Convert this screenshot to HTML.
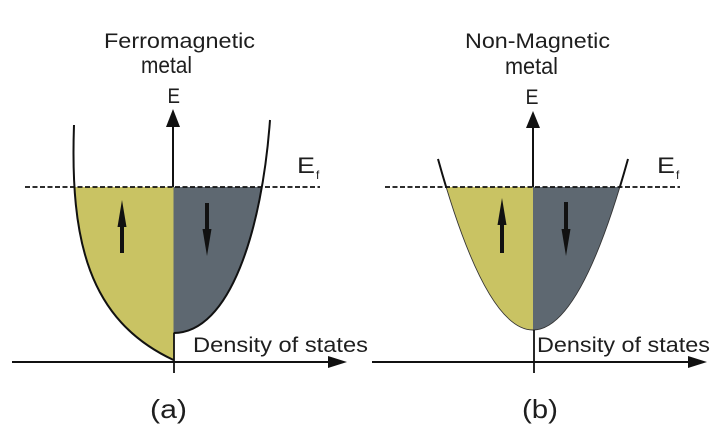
<!DOCTYPE html>
<html>
<head>
<meta charset="utf-8">
<style>
html,body{margin:0;padding:0;background:#fff;}
svg{display:block;}
text{font-family:"Liberation Sans",Arial,sans-serif;fill:#1e1e1e;}
</style>
</head>
<body>
<svg width="719" height="440" viewBox="0 0 719 440" xmlns="http://www.w3.org/2000/svg">
<defs>
  <clipPath id="aL"><rect x="0" y="187" width="173.5" height="200"/></clipPath>
  <clipPath id="aR"><rect x="173.5" y="187" width="200" height="200"/></clipPath>
  <clipPath id="bL"><rect x="360" y="187" width="173" height="200"/></clipPath>
  <clipPath id="bR"><rect x="533" y="187" width="200" height="200"/></clipPath>
  <clipPath id="bTop"><rect x="360" y="0" width="359" height="188"/></clipPath>
</defs>

<!-- ===== Panel (a) ===== -->
<text x="104" y="48" font-size="21.5" textLength="151" lengthAdjust="spacingAndGlyphs">Ferromagnetic</text>
<text x="141" y="73" font-size="23" textLength="51" lengthAdjust="spacingAndGlyphs">metal</text>
<text x="167.5" y="103" font-size="21" textLength="12.5" lengthAdjust="spacingAndGlyphs">E</text>

<!-- fills -->
<path d="M74,125 C70,240 88,320 173.5,360 L173.5,120 Z" fill="#c9c363" clip-path="url(#aL)"/>
<path d="M173.5,333 C230,333 262,230 270,120 L173.5,120 Z" fill="#5e6871" clip-path="url(#aR)"/>

<!-- curves -->
<path d="M74,125 C70,240 88,320 173.5,360" fill="none" stroke="#111" stroke-width="2"/>
<path d="M173.5,333 C230,333 262,230 270,120" fill="none" stroke="#111" stroke-width="2"/>

<!-- vertical axis -->
<line x1="173" y1="125" x2="173" y2="187" stroke="#111" stroke-width="2"/>
<line x1="174" y1="333" x2="174" y2="373" stroke="#111" stroke-width="1.8"/>
<polygon points="173,109 166,127 180,127" fill="#111"/>

<!-- horizontal axis -->
<line x1="12" y1="362" x2="332" y2="362" stroke="#111" stroke-width="2"/>
<polygon points="347,362 328,356 328,368" fill="#111"/>

<!-- dashed Ef line -->
<line x1="25" y1="187" x2="320" y2="187" stroke="#111" stroke-width="1.8" stroke-dasharray="5 2.5"/>
<text x="297" y="173" font-size="22" textLength="18" lengthAdjust="spacingAndGlyphs">E</text>
<text x="316" y="179" font-size="12">f</text>

<!-- spin arrows -->
<line x1="122" y1="224" x2="122" y2="253" stroke="#111" stroke-width="4"/>
<polygon points="122,200 117.5,227 126.5,227" fill="#111"/>
<line x1="207" y1="203" x2="207" y2="232" stroke="#111" stroke-width="4"/>
<polygon points="207,256 202.5,229 211.5,229" fill="#111"/>

<text x="193" y="352" font-size="21" textLength="175" lengthAdjust="spacingAndGlyphs">Density of states</text>
<text x="150" y="418" font-size="26" textLength="37" lengthAdjust="spacingAndGlyphs">(a)</text>

<!-- ===== Panel (b) ===== -->
<text x="465" y="48" font-size="21.5" textLength="145" lengthAdjust="spacingAndGlyphs">Non-Magnetic</text>
<text x="505" y="74" font-size="23" textLength="53" lengthAdjust="spacingAndGlyphs">metal</text>
<text x="525.5" y="104" font-size="21" textLength="13" lengthAdjust="spacingAndGlyphs">E</text>

<path d="M438,159 Q533,501 628,159 Z" fill="#c9c363" clip-path="url(#bL)"/>
<path d="M438,159 Q533,501 628,159 Z" fill="#5e6871" clip-path="url(#bR)"/>
<path d="M438,159 Q533,501 628,159" fill="none" stroke="#333" stroke-width="0.9"/>
<path d="M438,159 Q533,501 628,159" fill="none" stroke="#111" stroke-width="2" clip-path="url(#bTop)"/>

<line x1="533" y1="125" x2="533" y2="187" stroke="#111" stroke-width="2"/>
<line x1="534" y1="330" x2="534" y2="373" stroke="#111" stroke-width="1.8"/>
<polygon points="533,111 526,128 540,128" fill="#111"/>

<line x1="372" y1="362" x2="692" y2="362" stroke="#111" stroke-width="2"/>
<polygon points="707,362 688,356 688,368" fill="#111"/>

<line x1="385" y1="187" x2="680" y2="187" stroke="#111" stroke-width="1.8" stroke-dasharray="5 2.5"/>
<text x="657" y="173" font-size="22" textLength="18" lengthAdjust="spacingAndGlyphs">E</text>
<text x="676" y="179" font-size="12">f</text>

<line x1="502" y1="222" x2="502" y2="253" stroke="#111" stroke-width="4"/>
<polygon points="502,198 497.5,225 506.5,225" fill="#111"/>
<line x1="566" y1="202" x2="566" y2="232" stroke="#111" stroke-width="4"/>
<polygon points="566,256 561.5,229 570.5,229" fill="#111"/>

<text x="537" y="352" font-size="21" textLength="173" lengthAdjust="spacingAndGlyphs">Density of states</text>
<text x="522" y="418" font-size="26" textLength="36" lengthAdjust="spacingAndGlyphs">(b)</text>
</svg>
</body>
</html>
